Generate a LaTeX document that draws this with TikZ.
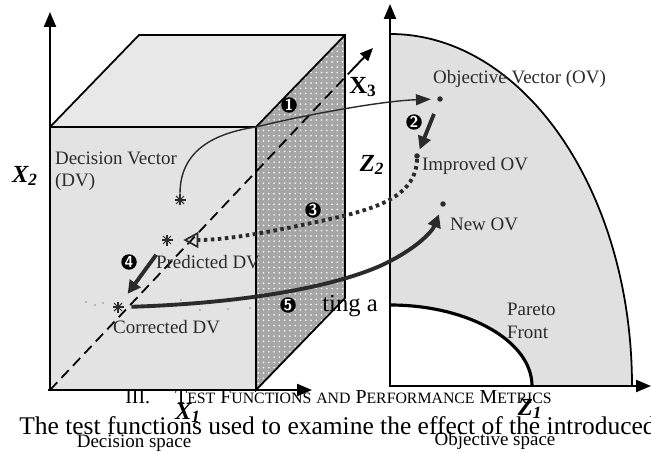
\documentclass[tikz,border=0pt]{standalone}
\usepackage{fontspec}
\setmainfont{Liberation Serif}
\usetikzlibrary{arrows.meta,patterns}
\definecolor{frontgray}{HTML}{E3E3E3}
\definecolor{topgray}{HTML}{E8E8E8}
\definecolor{sidegray}{HTML}{A6A6A6}
\definecolor{objgray}{HTML}{E0E0E0}
\definecolor{arrgray}{HTML}{2B2B2B}
\newcommand{\smc}[1]{{\fontsize{9}{9}\selectfont #1}}

\begin{document}
\begin{tikzpicture}[x=0.02cm, y=-0.02cm,
    axis/.style={draw=black, line width=1.3pt, -{Triangle[length=3mm, width=2.4mm]}},
    edge/.style={draw=black, line width=1pt},
    lbl/.style={font=\fontsize{10.8}{12.8}\selectfont, inner sep=1pt, align=left, anchor=west, text=arrgray},
    axlbl/.style={font=\fontsize{14}{14}\selectfont\bfseries\itshape, inner sep=0pt},
    numc/.style={circle, fill=black, text=white, inner sep=0pt, minimum size=3.1mm,
                 font=\fontsize{9}{9}\selectfont\bfseries\sffamily},
    ovdot/.style={circle, fill=arrgray, inner sep=0pt, minimum size=1.1mm},
    dvstar/.style={circle, inner sep=0pt, minimum size=2.4mm},
    jump/.style={draw=arrgray, line width=0.8pt, -{Triangle[length=3mm, width=2.2mm]}},
    bigjump/.style={draw=arrgray, line width=2.2pt, -{Triangle[length=2.6mm, width=2.6mm]}},
    dotjump/.style={draw=arrgray, line width=2.2pt, dash pattern=on 2pt off 2pt,
                    -{Triangle[open, length=3mm, width=3.2mm, line width=1pt]}},
    paper/.style={inner sep=0pt, anchor=base west}
  ]
    \fill[white] (0,0) rectangle (651,452);
    \useasboundingbox (0,0) rectangle (651,452);

    % objective space
    \fill[objgray] (390,34) .. controls (523.7,34) and (632,191.6) .. (632,386)
      -- (532,386) .. controls (532,341.3) and (468.4,305) .. (390,305) -- cycle;
    \draw[edge] (390,34) .. controls (523.7,34) and (632,191.6) .. (632,386);
    \draw[black, line width=1.8pt] (390,305) .. controls (468.4,305) and (532,341.3) .. (532,386);

    % decision space box
    \coordinate (fbl) at (50,390);
    \coordinate (fbr) at (256,390);
    \coordinate (ftr) at (256,127);
    \coordinate (ftl) at (50,127);
    \coordinate (btl) at (139,35);
    \coordinate (btr) at (345,35);
    \coordinate (bbr) at (345,298);
    \fill[frontgray] (fbl) rectangle (ftr);
    \fill[topgray] (ftl) -- (btl) -- (btr) -- (ftr) -- cycle;
    \fill[sidegray] (ftr) -- (btr) -- (bbr) -- (fbr) -- cycle;
    \fill[pattern=dots, pattern color=white] (ftr) -- (btr) -- (bbr) -- (fbr) -- cycle;
    \draw[edge] (ftl) -- (btl) -- (btr) -- (bbr) -- (fbr) -- (ftr) -- (ftl);
    \draw[edge] (ftr) -- (btr);

    % axes
    \coordinate (o1) at (50,391);
    \draw[axis] (o1) -- (50,12);
    \draw[axis] (48,390) -- (312,390);
    \coordinate (o2) at (390,387);
    \draw[axis] (o2) -- (390,4);
    \draw[axis] (389,386) -- (651,386);
    \coordinate (x3a) at (350,72);
    \draw[black, line width=1pt, dash pattern=on 6pt off 3.5pt] (fbl) -- (x3a);
    \draw[black, line width=1.1pt, -{Triangle[length=2.6mm, width=2.2mm]}] (x3a) -- (373,48);

    \node[axlbl] (x2) at (25,176) {X\textsubscript{2}};
    \node[axlbl] (x1) at (188,413) {X\textsubscript{1}};
    \node[font=\fontsize{14}{14}\selectfont\bfseries, inner sep=0pt] (x3) at (363,87) {X\textsubscript{3}};
    \node[axlbl] (z2) at (372,165) {Z\textsubscript{2}};
    \node[axlbl] (z1) at (530,409) {Z\textsubscript{1}};

    % points
    \node[ovdot] (ov)  at (440,99)  {};
    \node[ovdot] (iov) at (417,156) {};
    \node[ovdot] (nov) at (443,204) {};
    \node[dvstar] (dv)  at (180,200) {};
    \node[dvstar] (pdv) at (167,240) {};
    \node[dvstar] (cdv) at (118,307) {};
    \foreach \s in {dv,pdv,cdv}
      \foreach \a in {0,45,90,135}
        \draw[arrgray, line width=0.6pt] (\s) +(\a:5.5) -- +(\a+180:5.5);
    \foreach \p in {(86,302),(95,305),(103,303),(181,300),(200,310),(228,309),(250,308)}
      \fill[arrgray] \p circle[radius=0.6];

    % labels
    \node[lbl] (dvlbl)  at (53,171)  {Decision Vector\\(DV)};
    \node[lbl] (ovlbl)  at (431,79)  {Objective Vector (OV)};
    \node[lbl] (iovlbl) at (420,166) {Improved OV};
    \node[lbl] (novlbl) at (448,224) {New OV};
    \node[lbl] (pdvlbl) at (154,262) {Predicted DV};
    \node[lbl] (cdvlbl) at (111,327) {Corrected DV};
    \node[lbl] (pflbl)  at (505,321) {Pareto\\Front};

    % steps
    \draw[jump, shorten >=1.2mm] (dv.north) .. controls (180,150) and (215,133) .. (256,127)
      .. controls (300,116) and (380,101) .. (ov.west);
    \draw[bigjump, shorten <=2.6mm, shorten >=0.8mm] (ov) -- (iov);
    \draw[dotjump, shorten >=2mm] (iov.south) .. controls (416,195) and (380,208) .. (330,219)
      .. controls (280,230) and (230,240) .. (pdv.east);
    \draw[bigjump, shorten <=2.4mm, shorten >=2mm] (pdv) -- (cdv);
    \draw[bigjump, shorten <=1.4mm, shorten >=1.6mm] (cdv.east) .. controls (220,304) and (320,292) .. (380,266)
      .. controls (415,250) and (432,232) .. (nov);

    \node[numc] (n1) at (289,105) {1};
    \node[numc] (n2) at (414,122) {2};
    \node[numc] (n3) at (313,210) {3};
    \node[numc] (n4) at (129,262) {4};
    \node[numc] (n5) at (288,305) {5};

    % text of the page showing through
    \node[paper, font=\fontsize{11.3}{11.3}\selectfont] (sec) at (125,403)
      {III.\hspace{5mm}T\smc{EST} F\smc{UNCTIONS} \smc{AND} P\smc{ERFORMANCE} M\smc{ETRICS}};
    \node[paper, font=\fontsize{14.5}{14.5}\selectfont] (body) at (19,434)
      {The test functions used to examine the effect of the introduced};
    \node[paper, font=\fontsize{14}{14}\selectfont] (tail) at (322,311) {ting a};
    \node[font=\fontsize{10.8}{10.8}\selectfont, inner sep=0pt] (dspace) at (134,443) {Decision space};
    \node[font=\fontsize{10.8}{10.8}\selectfont, inner sep=0pt] (ospace) at (495,441) {Objective space};
  \end{tikzpicture}
\end{document}
